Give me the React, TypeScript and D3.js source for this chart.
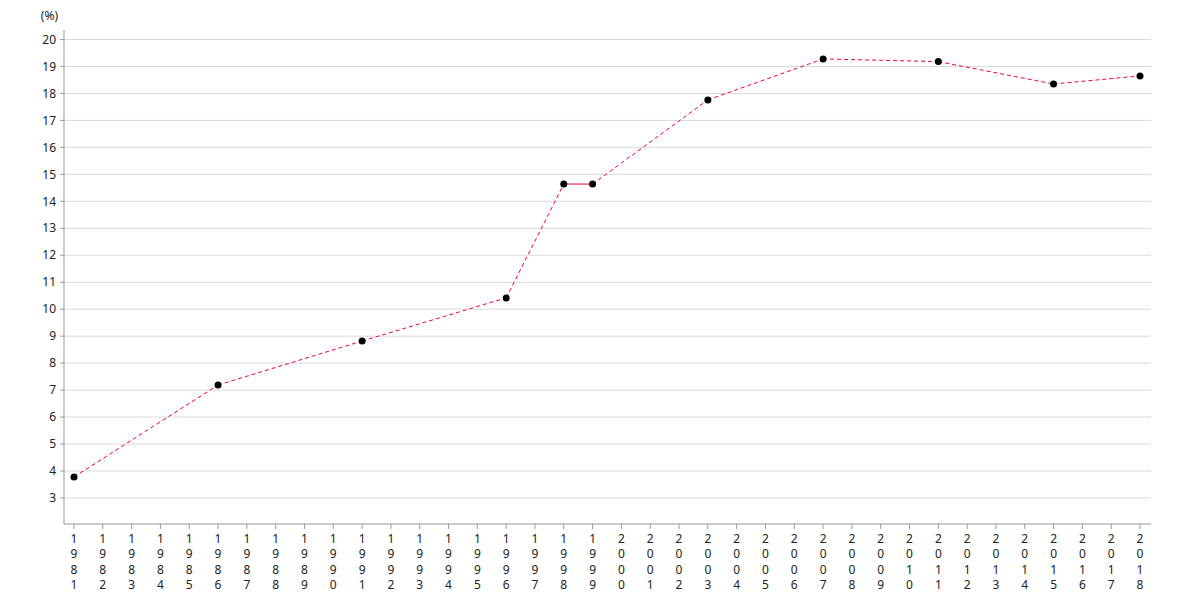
import * as d3 from "d3";

const years = d3.range(1981, 2019).map(String);
const dataYears = [1981, 1986, 1991, 1996, 1998, 1999, 2003, 2007, 2011, 2015, 2018];
const dataValues = [3.78, 7.19, 8.82, 10.42, 14.64, 14.64, 17.76, 19.28, 19.18, 18.35, 18.65];
const yTicks = d3.range(3, 21);

const width = 1180;
const height = 600;
const axisLeft = 64;
const axisRight = 1151;
const axisBottom = 524;
const axisTop = 30;
const font = "'Noto Sans', 'Open Sans', sans-serif";
const lineColor = "#f2003c";

export default function App() {
  const x = d3.scalePoint<string>().domain(years).range([74, 1140]);
  const y = d3.scaleLinear().domain([3, 20]).range([498, 39.5]);

  const pts = dataYears.map((yr, i) => ({ yr, v: dataValues[i] }));
  const segs = pts.slice(1).map((p, i) => ({ a: pts[i], b: p }));

  return (
    <svg
      width={width}
      height={height}
      style={{ display: "block", position: "absolute", left: 0, top: 0 }}
      fontFamily={font}
    >
      <rect width={width} height={height} fill="#fff" />
      <text x={58} y={20} fontSize={12} textAnchor="end" fill="#222">
        (%)
      </text>
      {yTicks.map((t) => (
        <g key={t}>
          <line x1={axisLeft} x2={axisRight} y1={y(t)} y2={y(t)} stroke="#d9d9d9" />
          <line x1={axisLeft - 4} x2={axisLeft} y1={y(t)} y2={y(t)} stroke="#999" />
          <text x={56} y={y(t)} dy="0.35em" fontSize={12} textAnchor="end" fill="#222">
            {t}
          </text>
        </g>
      ))}
      <line x1={axisLeft} x2={axisLeft} y1={axisTop} y2={axisBottom} stroke="#999" />
      <line x1={axisLeft} x2={axisRight} y1={axisBottom} y2={axisBottom} stroke="#999" />
      {years.map((yr) => (
        <g key={yr} transform={`translate(${x(yr)},0)`}>
          <line y1={axisBottom} y2={axisBottom + 5} stroke="#999" />
          {yr.split("").map((c, i) => (
            <text key={i} y={543 + i * 15.3} fontSize={12} textAnchor="middle" fill="#222">
              {c}
            </text>
          ))}
        </g>
      ))}
      {segs.map((s, i) => (
        <line
          key={i}
          x1={x(String(s.a.yr))}
          y1={y(s.a.v)}
          x2={x(String(s.b.yr))}
          y2={y(s.b.v)}
          stroke={lineColor}
          strokeWidth={1}
          strokeDasharray={s.b.yr - s.a.yr > 1 ? "4,3" : undefined}
        />
      ))}
      {pts.map((p) => (
        <circle key={p.yr} cx={x(String(p.yr))} cy={y(p.v)} r={3.5} fill="#000" />
      ))}
    </svg>
  );
}
